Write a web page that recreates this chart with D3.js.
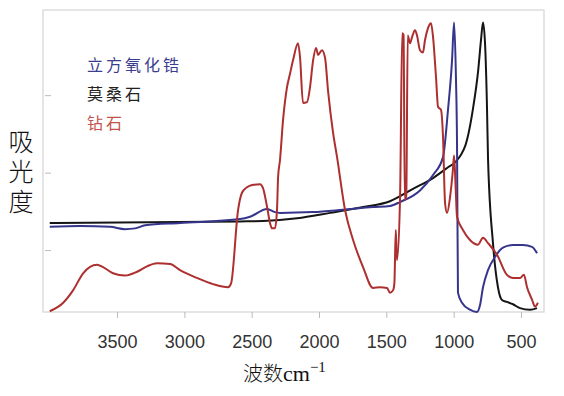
<!DOCTYPE html>
<html><head><meta charset="utf-8">
<script src="https://cdn.jsdelivr.net/npm/d3@7"></script>
<style>body{margin:0;background:#fff}svg{display:block}</style>
</head><body><svg id="c" width="564" height="396"></svg>
<script>
// wavenumber (cm^-1), absorbance
const cubicZirconia = [[4000,1.30],[3775,1.31],[3552,1.30],[3441,1.27],[3366,1.28],[3292,1.32],[3032,1.35],[2587,1.40],[2512,1.43],[2386,1.53],[2327,1.49],[2290,1.48],[2044,1.49],[1822,1.52],[1599,1.555],[1473,1.57],[1398,1.62],[1250,1.77],[1153,1.97],[1079,2.20],[1042,2.81],[1012,3.45],[997,3.94],[983,3.23],[975,2.38],[968,0.45],[938,0.32],[879,0.23],[827,0.20],[804,0.29],[782,0.52],[745,0.74],[693,0.91],[634,1.03],[559,1.065],[485,1.065],[418,1.04],[381,0.96]];
const moissanite = [[4000,1.35],[3255,1.36],[2587,1.37],[2416,1.375],[2163,1.41],[1918,1.48],[1673,1.555],[1473,1.63],[1302,1.79],[1153,1.93],[1049,2.06],[975,2.16],[901,2.42],[856,2.83],[819,3.30],[797,3.71],[782,3.94],[767,3.67],[752,2.81],[745,2.20],[708,1.09],[671,0.52],[641,0.355],[604,0.33],[559,0.30],[507,0.25],[433,0.23],[381,0.25]];
const diamond = [[4000,0.21],[3900,0.32],[3827,0.48],[3752,0.70],[3649,0.81],[3604,0.78],[3530,0.70],[3441,0.67],[3351,0.72],[3277,0.79],[3203,0.83],[3106,0.82],[3032,0.74],[2906,0.64],[2787,0.56],[2676,0.52],[2653,0.57],[2601,1.52],[2572,1.74],[2535,1.81],[2497,1.84],[2438,1.85],[2416,1.80],[2386,1.56],[2364,1.35],[2349,1.28],[2327,1.28],[2312,1.52],[2304,1.94],[2290,2.16],[2267,2.68],[2238,3.10],[2215,3.28],[2193,3.45],[2156,3.67],[2141,3.49],[2119,2.90],[2089,2.91],[2067,3.10],[2044,3.45],[2022,3.61],[2007,3.52],[1978,3.58],[1955,3.48],[1933,3.06],[1896,2.52],[1866,2.20],[1807,1.52],[1747,1.13],[1673,0.78],[1599,0.51],[1547,0.52],[1495,0.51],[1473,0.45],[1450,0.48],[1440,0.58],[1430,1.26],[1421,0.87],[1398,1.68],[1382,3.80],[1372,3.78],[1363,1.65],[1352,1.70],[1341,3.77],[1324,3.67],[1309,3.75],[1287,3.84],[1272,3.77],[1250,3.58],[1228,3.55],[1213,3.71],[1190,3.87],[1168,3.93],[1153,3.75],[1131,3.23],[1116,2.85],[1094,2.81],[1079,2.46],[1064,1.61],[1049,1.48],[1027,1.68],[1005,2.05],[997,2.22],[985,1.80],[975,1.43],[931,1.26],[879,1.13],[819,1.07],[782,1.16],[745,1.09],[678,0.94],[604,0.68],[559,0.64],[507,0.64],[478,0.68],[455,0.52],[418,0.36],[396,0.27],[374,0.32]];
const xTicks = [3500,3000,2500,2000,1500,1000,500];
const yTicks = [1,2,3];
const legendLabels = ["立方氧化锆","莫桑石","钻石"];
const yTitle = "吸光度";

const W=564,H=396, m={l:43,t:10,r:20,b:84};
const svg=d3.select("#c");
const x=d3.scaleLinear().domain([4050,329]).range([m.l,W-m.r]);
const y=d3.scaleLinear().domain([0.2,4.1]).range([H-m.b,m.t]);

// frame
svg.append("rect").attr("x",m.l).attr("y",m.t).attr("width",W-m.l-m.r).attr("height",H-m.t-m.b)
  .attr("fill","none").attr("stroke","#d4d4d4").attr("stroke-width",1.2);

// x axis
const xa=svg.append("g").attr("transform",`translate(0,${H-m.b})`)
  .call(d3.axisBottom(x).tickValues(xTicks).tickFormat(d3.format("d")).tickSize(6).tickPadding(17));
xa.select(".domain").remove();
xa.selectAll("line").attr("stroke","#bbb");
xa.selectAll("text").attr("font-family","Liberation Sans, Arial, sans-serif").attr("font-size",18).attr("fill","#333");

// y axis (inner ticks, no labels)
const ya=svg.append("g").attr("transform",`translate(${m.l},0)`)
  .call(d3.axisRight(y).tickValues(yTicks).tickSize(6).tickFormat(""));
ya.select(".domain").remove();
ya.selectAll("line").attr("stroke","#bbb").attr("transform","translate(2,0)");

const line=d3.line().x(d=>x(d[0])).y(d=>y(d[1])).curve(d3.curveMonotoneX);
const series=[[moissanite,"#151515"],[cubicZirconia,"#35358c"],[diamond,"#ad2f2f"]];
series.forEach(([d,c])=>{
  svg.append("path").datum(d).attr("d",line).attr("fill","none").attr("stroke",c)
    .attr("stroke-width",2).attr("stroke-linejoin","round");
});

// legend
const legColors=["#3c3c8e","#222","#c4524a"];
legendLabels.forEach((t,i)=>{
  svg.append("text").attr("x",87).attr("y",71+i*29).text(t)
    .attr("font-family","Noto Sans CJK SC").attr("font-size",16).attr("letter-spacing",3)
    .attr("fill",legColors[i]);
});

// y title (vertical writing)
svg.append("text").attr("x",21).attr("y",129).text(yTitle)
  .style("writing-mode","vertical-rl").style("text-orientation","upright")
  .attr("letter-spacing",5)
  .attr("font-family","Noto Sans CJK SC").attr("font-size",25).attr("font-weight",300).attr("fill","#111");

// x title
const xt=svg.append("text").attr("x",243).attr("y",381).attr("fill","#111");
xt.append("tspan").text("波数").attr("font-family","Noto Sans CJK SC").attr("font-size",20).attr("font-weight",300);
xt.append("tspan").text("cm").attr("font-family","Liberation Serif").attr("font-size",22);
xt.append("tspan").text("−1").attr("font-family","Liberation Serif").attr("font-size",15).attr("dy",-9);
</script></body></html>
